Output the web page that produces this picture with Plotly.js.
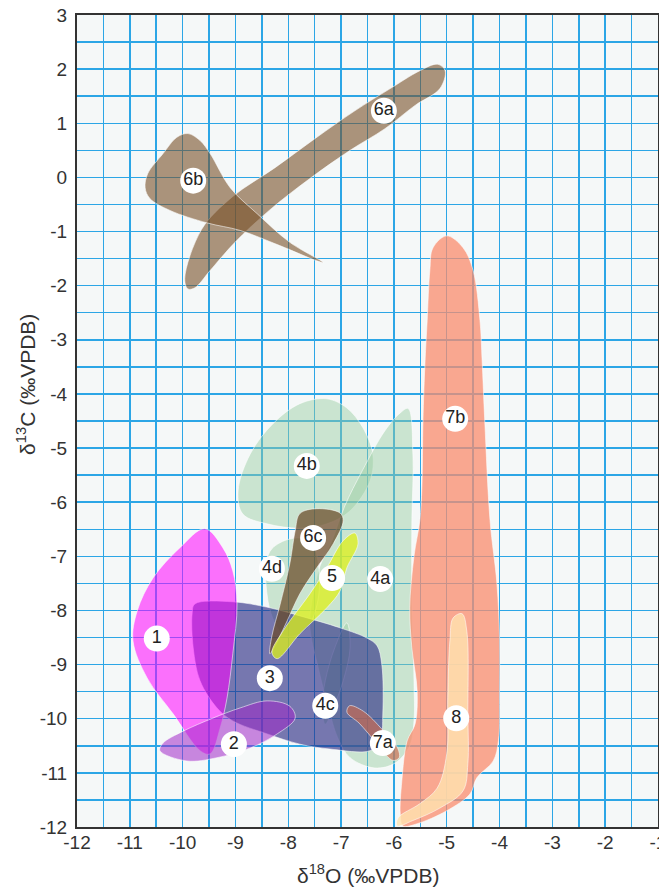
<!DOCTYPE html>
<html><head><meta charset="utf-8">
<script src="https://cdn.plot.ly/plotly-3.0.1.min.js"></script>
<style>html,body{margin:0;padding:0;background:#fff}#chart{width:659px;height:889px}</style>
</head><body><div id="chart"></div>
<script>
// Field outlines: δ18O (x) and δ13C (y), ‰VPDB
const f4b_x = [-7.27,-6.89,-6.59,-6.40,-6.45,-6.83,-7.27,-7.78,-8.40,-8.86,-8.95,-8.72,-8.29,-7.78];
const f4b_y = [-4.09,-4.26,-4.62,-5.11,-5.60,-6.16,-6.40,-6.48,-6.40,-6.22,-5.79,-5.11,-4.55,-4.18];
const f4a_x = [-5.73,-5.64,-5.66,-5.66,-5.62,-5.62,-5.70,-5.98,-6.36,-6.83,-7.06,-7.25,-7.44,-7.59,-7.55,-7.40,-7.17,-6.93,-6.60,-6.17,-5.88];
const f4a_y = [-4.27,-5.13,-6.34,-7.82,-9.30,-10.04,-10.50,-10.82,-10.91,-10.72,-10.36,-9.76,-9.03,-8.32,-7.82,-7.18,-6.71,-6.07,-5.42,-4.68,-4.35];
const f4d_x = [-8.31,-7.97,-7.59,-7.44,-7.44,-7.68,-8.06,-8.31,-8.42,-8.42];
const f4d_y = [-6.86,-6.68,-6.71,-7.08,-7.82,-8.37,-8.47,-8.10,-7.54,-7.12];
const f4c_x = [-6.89,-6.83,-6.96,-7.15,-7.30,-7.36,-7.30,-7.12];
const f4c_y = [-8.23,-8.69,-9.30,-9.80,-10.10,-9.80,-9.30,-8.69];
const f7b_x = [-5.00,-4.69,-4.50,-4.37,-4.33,-4.28,-4.18,-4.05,-4.00,-4.00,-4.02,-4.12,-4.43,-4.56,-5.00,-5.56,-5.83,-5.88,-5.85,-5.75,-5.60,-5.56,-5.66,-5.70,-5.62,-5.51,-5.47,-5.45,-5.41,-5.37,-5.32,-5.26];
const f7b_y = [-1.08,-1.30,-1.72,-2.65,-3.39,-4.50,-6.34,-7.50,-8.50,-9.50,-10.40,-10.78,-11.09,-11.39,-11.70,-11.94,-11.98,-11.76,-11.15,-10.41,-10.10,-9.49,-8.69,-7.95,-7.00,-6.34,-5.73,-4.50,-3.39,-2.65,-1.72,-1.30];
const f8_x = [-4.71,-4.62,-4.60,-4.60,-4.69,-5.13,-5.64,-5.94,-5.92,-5.51,-5.18,-5.00,-4.98,-4.94,-4.88];
const f8_y = [-8.06,-8.38,-9.91,-10.83,-11.33,-11.65,-11.88,-11.98,-11.83,-11.57,-11.28,-10.65,-9.61,-8.56,-8.14];
const f3_x = [-9.77,-9.05,-8.35,-7.78,-7.02,-6.51,-6.32,-6.23,-6.21,-6.26,-6.45,-7.21,-7.78,-8.40,-9.05,-9.35,-9.67,-9.80,-9.82];
const f3_y = [-7.88,-7.84,-7.95,-8.10,-8.32,-8.51,-8.65,-8.99,-9.91,-10.41,-10.59,-10.56,-10.47,-10.28,-10.04,-9.80,-9.30,-8.69,-8.06];
const f1_x = [-9.58,-9.24,-9.05,-8.97,-9.05,-9.16,-9.29,-9.48,-9.67,-10.18,-10.67,-10.94,-10.86,-10.56,-10.05];
const f1_y = [-6.49,-6.84,-7.27,-7.88,-8.80,-9.62,-10.17,-10.65,-10.59,-9.91,-9.25,-8.56,-8.01,-7.40,-6.84];
const f2_x = [-10.43,-9.92,-9.35,-8.72,-8.21,-7.87,-7.97,-8.40,-8.91,-9.43,-9.99,-10.37];
const f2_y = [-10.59,-10.78,-10.72,-10.54,-10.28,-9.99,-9.77,-9.67,-9.80,-9.99,-10.23,-10.45];
const f6a_x = [-9.96,-9.64,-9.06,-8.25,-7.49,-6.74,-6.07,-5.51,-5.17,-5.03,-5.13,-5.60,-6.17,-6.83,-7.59,-8.35,-9.01,-9.48,-9.77,-9.90];
const f6a_y = [-1.87,-0.96,-0.36,0.18,0.72,1.23,1.64,1.97,2.09,1.97,1.64,1.33,0.90,0.50,-0.02,-0.60,-1.20,-1.72,-2.04,-2.06];
const f6b_x = [-9.90,-9.67,-9.48,-9.10,-8.59,-7.97,-7.34,-7.46,-8.16,-8.91,-9.54,-10.24,-10.62,-10.71,-10.66,-10.37,-10.11];
const f6b_y = [0.81,0.68,0.44,-0.19,-0.67,-1.20,-1.57,-1.54,-1.26,-0.98,-0.84,-0.61,-0.39,-0.19,0.07,0.44,0.74];
const f6c_x = [-7.78,-7.46,-7.02,-6.96,-7.15,-7.46,-7.78,-8.02,-8.25,-8.35,-8.31,-8.16,-7.97,-7.87];
const f6c_y = [-6.21,-6.12,-6.20,-6.34,-6.77,-7.21,-7.69,-8.19,-8.65,-8.80,-8.47,-7.91,-7.13,-6.53];
const f5_x = [-6.74,-6.68,-6.89,-7.02,-7.27,-7.78,-8.21,-8.31,-8.10,-7.59,-7.27,-6.96];
const f5_y = [-6.57,-6.77,-7.21,-7.64,-7.95,-8.43,-8.89,-8.78,-8.38,-7.69,-7.21,-6.71];
const f7a_x = [-6.84,-6.58,-6.22,-5.93,-5.90,-6.02,-6.32,-6.66,-6.89];
const f7a_y = [-9.76,-9.86,-10.20,-10.54,-10.72,-10.77,-10.46,-10.08,-9.88];

const labelNames = ['1','2','3','4a','4b','4c','4d','5','6a','6b','6c','7a','7b','8'];
const labelX = [-10.49,-9.03,-8.35,-6.26,-7.65,-7.30,-8.31,-7.17,-6.19,-9.80,-7.53,-6.21,-4.84,-4.82];
const labelY = [-8.52,-10.47,-9.25,-7.42,-5.33,-9.76,-7.23,-7.40,1.23,-0.06,-6.66,-10.45,-4.46,-9.99];

const xTicks = [-12,-11,-10,-9,-8,-7,-6,-5,-4,-3,-2,-1];
const yTicks = [3,2,1,0,-1,-2,-3,-4,-5,-6,-7,-8,-9,-10,-11,-12];

function field(xs, ys, color) {
  return {
    type: 'scatter', mode: 'lines', fill: 'toself', fillcolor: color,
    x: xs.concat([xs[0]]), y: ys.concat([ys[0]]),
    line: {shape: 'spline', smoothing: 1, color: 'rgba(255,255,255,0.55)', width: 1},
    hoverinfo: 'skip', showlegend: false
  };
}
const green = 'rgba(150,205,160,0.45)';
const traces = [
  field(f4b_x, f4b_y, green),
  field(f4a_x, f4a_y, green),
  field(f4d_x, f4d_y, green),
  field(f4c_x, f4c_y, green),
  field(f7b_x, f7b_y, 'rgba(250,140,110,0.75)'),
  field(f8_x, f8_y, 'rgba(255,228,175,0.8)'),
  field(f3_x, f3_y, 'rgba(40,40,130,0.62)'),
  field(f1_x, f1_y, 'rgba(255,0,255,0.55)'),
  field(f2_x, f2_y, 'rgba(160,40,200,0.55)'),
  field(f6a_x, f6a_y, 'rgba(120,80,40,0.6)'),
  field(f6b_x, f6b_y, 'rgba(120,80,40,0.6)'),
  field(f6c_x, f6c_y, 'rgba(105,72,38,0.72)'),
  field(f5_x, f5_y, 'rgba(222,240,25,0.75)'),
  field(f7a_x, f7a_y, 'rgba(205,105,75,0.65)'),
  {
    type: 'scatter', mode: 'markers+text', x: labelX, y: labelY, text: labelNames,
    textposition: 'middle center',
    marker: {size: 26, color: '#ffffff', line: {width: 0}},
    textfont: {family: 'Liberation Sans, Arial, sans-serif', size: 18, color: '#222'},
    hoverinfo: 'skip', showlegend: false
  }
];

const axisCommon = {
  showline: true, linecolor: '#333', linewidth: 2, mirror: true,
  showgrid: true, gridcolor: '#2ca6e6', gridwidth: 1.5,
  zeroline: false, ticks: '', ticklabeloverflow: 'allow',
  tickfont: {family: 'Liberation Sans, Arial, sans-serif', size: 19, color: '#333'},
  minor: {dtick: 0.5, showgrid: true, gridcolor: '#2ca6e6', gridwidth: 1.5, ticks: ''}
};
const layout = {
  width: 659, height: 889,
  margin: {l: 77, r: 1, t: 15, b: 62},
  paper_bgcolor: '#ffffff', plot_bgcolor: '#f5f8f8',
  xaxis: Object.assign({}, axisCommon, {range: [-12, -1], tickmode: 'array', tickvals: xTicks, ticktext: xTicks.map(String), ticklabelstandoff: -3}),
  yaxis: Object.assign({}, axisCommon, {range: [-12, 3], tickmode: 'array', tickvals: yTicks, ticktext: yTicks.map(String), ticklabelstandoff: 4}),
  annotations: [
    {text: 'δ<sup>18</sup>O (‰VPDB)', xref: 'paper', yref: 'paper', x: 0.5, y: -0.058, xanchor: 'center', yanchor: 'middle', showarrow: false,
     font: {family: 'Liberation Sans, Arial, sans-serif', size: 21, color: '#333'}},
    {text: 'δ<sup>13</sup>C (‰VPDB)', xref: 'paper', yref: 'paper', x: -0.087, y: 0.545, xanchor: 'center', yanchor: 'middle', textangle: -90, showarrow: false,
     font: {family: 'Liberation Sans, Arial, sans-serif', size: 21, color: '#333'}}
  ],
  showlegend: false, hovermode: false
};
Plotly.newPlot('chart', traces, layout, {displayModeBar: false, staticPlot: true});
</script>
</body></html>
